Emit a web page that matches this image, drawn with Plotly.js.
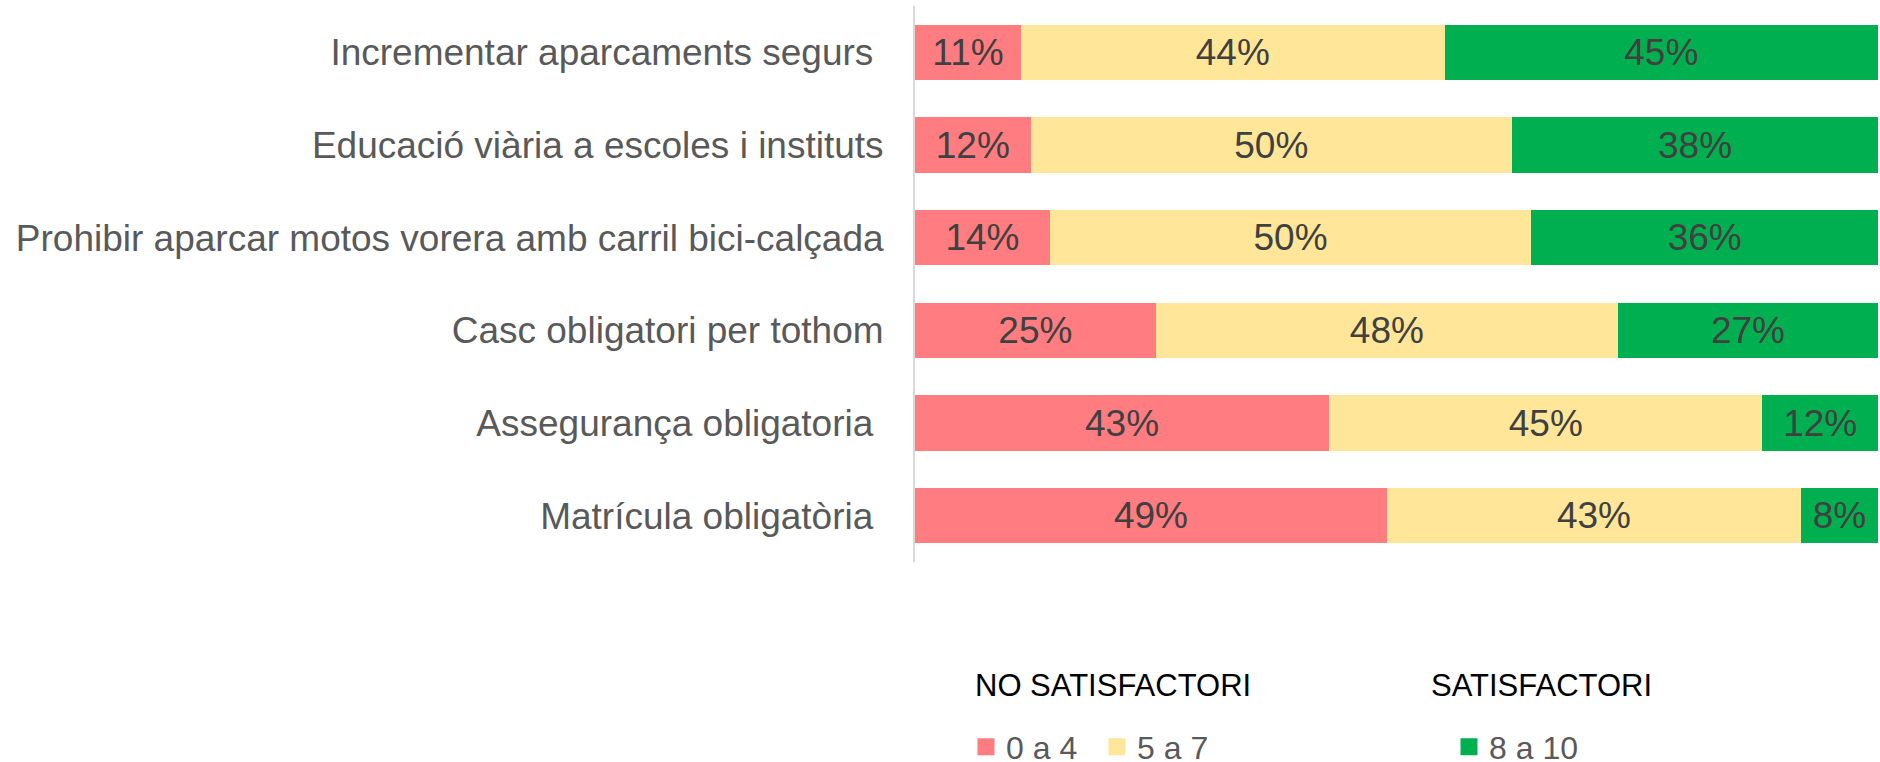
<!DOCTYPE html>
<html>
<head>
<meta charset="utf-8">
<script src="https://cdn.plot.ly/plotly-3.0.1.min.js"></script>
<style>html,body{margin:0;padding:0;background:#fff;}#chart{width:1880px;height:762px;}</style>
</head>
<body>
<div id="chart"></div>
<script>
const categories = [
  "Incrementar aparcaments segurs\u00a0",
  "Educació viària a escoles i instituts",
  "Prohibir aparcar motos vorera amb carril bici-calçada",
  "Casc obligatori per tothom",
  "Assegurança obligatoria\u00a0",
  "Matrícula obligatòria\u00a0"
];
const seriesNames = ["0 a 4", "5 a 7", "8 a 10"];
const low = [11, 12, 14, 25, 43, 49];
const mid = [44, 50, 50, 48, 45, 43];
const high = [45, 38, 36, 27, 12, 8];
const groupTitles = ["NO SATISFACTORI", "SATISFACTORI"];
const colors = ["#FF7C80", "#FFE699", "#00B050"];

const seriesValues = [low, mid, high];
const legendIds = ["legend", "legend", "legend2"];

const barTraces = seriesValues.map((vals, i) => ({
  type: "bar",
  orientation: "h",
  name: seriesNames[i],
  y: categories,
  x: vals,
  text: vals.map(v => v + "%"),
  textposition: "inside",
  insidetextanchor: "middle",
  textangle: 0,
  constraintext: "none",
  textfont: {family: "Liberation Sans, Arial, sans-serif", size: 37, color: "#404040"},
  marker: {color: colors[i]},
  showlegend: false,
  hoverinfo: "skip"
}));

// legend-only entries (larger swatches), no visible marks
const legendTraces = seriesNames.map((nm, i) => ({
  type: "bar",
  orientation: "h",
  name: nm,
  y: [categories[0]],
  x: [null],
  marker: {color: colors[i], line: {color: colors[i], width: 5}},
  legend: legendIds[i],
  showlegend: true,
  hoverinfo: "skip"
}));

const layout = {
  width: 1880,
  height: 762,
  paper_bgcolor: "#ffffff",
  plot_bgcolor: "#ffffff",
  barmode: "stack",
  bargap: 0.4,
  font: {family: "Liberation Sans, Arial, sans-serif", color: "#595959"},
  margin: {l: 915, r: 2, t: 6, b: 200, pad: 0, autoexpand: false},
  xaxis: {range: [0, 100], visible: false, fixedrange: true},
  yaxis: {
    autorange: "reversed",
    showline: true,
    linecolor: "#d9d9d9",
    linewidth: 2,
    ticks: "",
    showgrid: false,
    zeroline: false,
    ticklabelstandoff: 22,
    tickfont: {size: 37, color: "#595959"},
    fixedrange: true
  },
  showlegend: true,
  legend: {
    orientation: "h",
    xref: "container", yref: "container",
    x: 966 / 1880, y: (762 - 747) / 762,
    xanchor: "left", yanchor: "middle",
    font: {size: 32, color: "#595959"},
    bgcolor: "rgba(0,0,0,0)",
    entrywidth: 86,
    traceorder: "normal"
  },
  legend2: {
    orientation: "h",
    xref: "container", yref: "container",
    x: 1449 / 1880, y: (762 - 747) / 762,
    xanchor: "left", yanchor: "middle",
    font: {size: 32, color: "#595959"},
    bgcolor: "rgba(0,0,0,0)"
  },
  annotations: [
    {text: groupTitles[0], xref: "paper", yref: "paper", x: (973 - 915) / 963, y: -(666 - 562) / 556,
     xanchor: "left", yanchor: "top", showarrow: false, font: {size: 31, color: "#000000"}},
    {text: groupTitles[1], xref: "paper", yref: "paper", x: (1429 - 915) / 963, y: -(666 - 562) / 556,
     xanchor: "left", yanchor: "top", showarrow: false, font: {size: 31, color: "#000000"}}
  ]
};

Plotly.newPlot("chart", barTraces.concat(legendTraces), layout, {displayModeBar: false, staticPlot: true});
</script>
</body>
</html>
